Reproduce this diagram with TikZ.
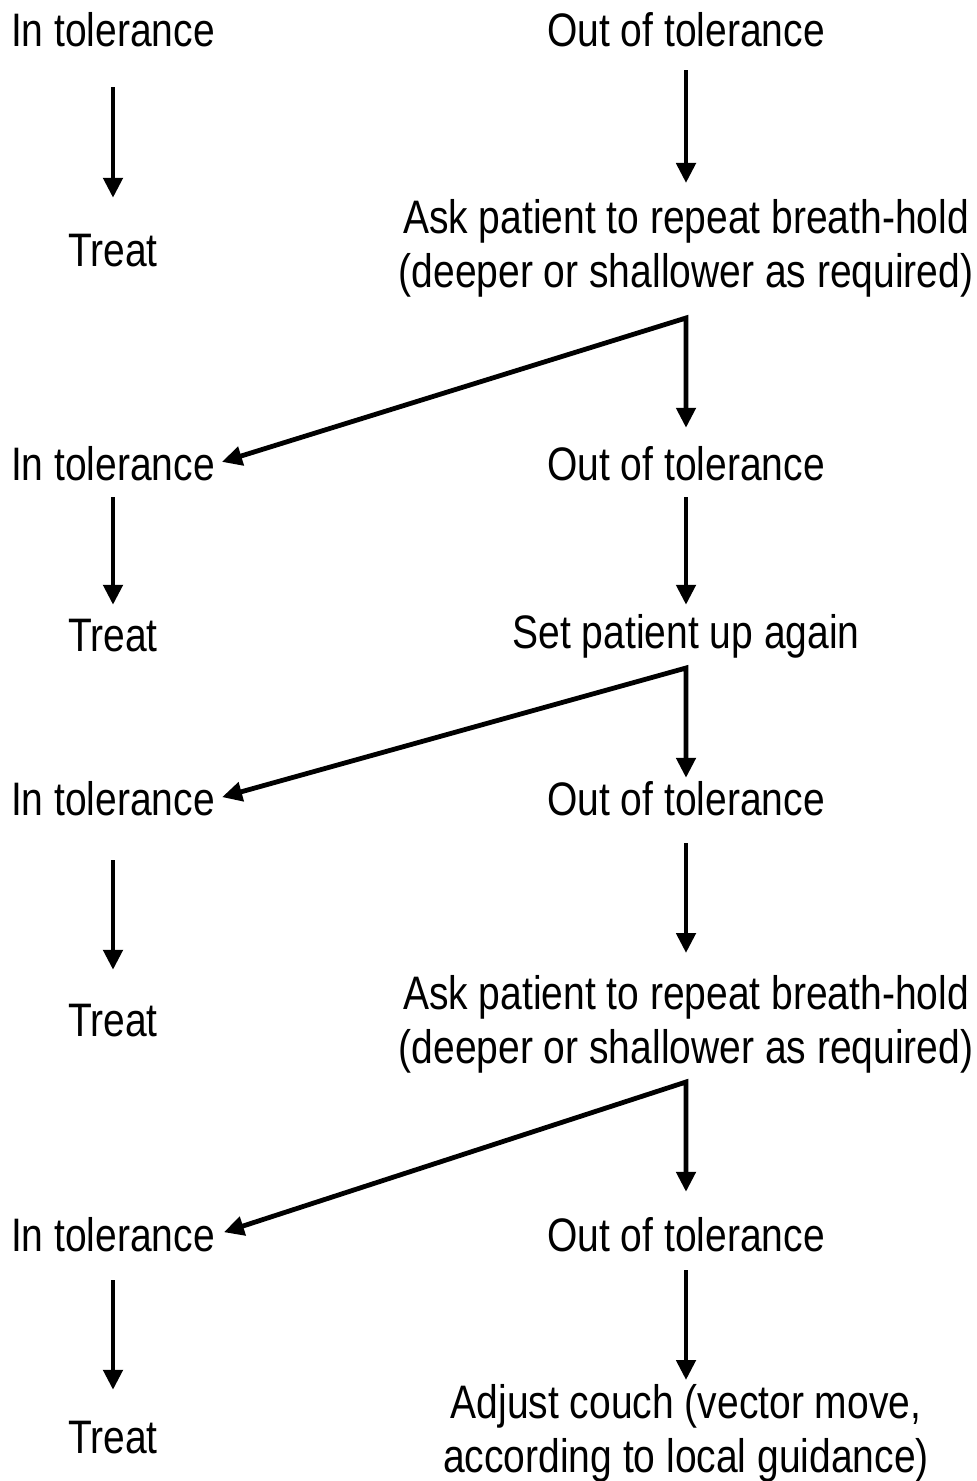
\documentclass[tikz,border=0pt]{standalone}
\usepackage{fontspec}
\setmainfont[FakeStretch=0.83]{Liberation Sans}
\usepackage{tikz}
\usetikzlibrary{arrows.meta}
\tikzset{txtstyle/.style={inner sep=0pt,text height=16.8pt,text depth=0pt},
  twostyle/.style={inner sep=0pt,align=center,anchor=north},
  arrstyle/.style={line width=2.4pt,-{Triangle[length=10pt,width=9.5pt]}},
  forkstyle/.style={line width=2.4pt,{Triangle[length=10pt,width=9.5pt]}-{Triangle[length=10pt,width=9.5pt]}}}

\begin{document}
\begin{tikzpicture}[x=0.5pt,y=-0.5pt,font=\fontsize{23.5}{27}\selectfont]
        \useasboundingbox (0,0) rectangle (976,1481);

        % Left column
        \foreach \n/\y in {1/30,2/464,3/799,4/1235}
            \node[txtstyle] (in\n) at (113,\y) {In tolerance};
        \foreach \n/\y in {1/250,2/635,3/1020,4/1437}
            \node[txtstyle] (treat\n) at (113,\y) {Treat};

        % Right column
        \foreach \n/\y in {1/30,2/464,3/799,4/1235}
            \node[txtstyle] (out\n) at (686,\y) {Out of tolerance};
        \node[twostyle] (ask1) at (686,199) {Ask patient to repeat breath-hold\\(deeper or shallower as required)};
        \node[txtstyle] (setup) at (686,632) {Set patient up again};
        \node[twostyle] (ask2) at (686,975) {Ask patient to repeat breath-hold\\(deeper or shallower as required)};
        \node[twostyle] (couch) at (686,1384) {Adjust couch (vector move,\\according to local guidance)};

        % Forks
        \coordinate (fork1) at (686,318);
        \coordinate (fork2) at (686,668);
        \coordinate (fork3) at (686,1082);

        % Vertical connections
        \draw[arrstyle,shorten <=20pt,shorten >=17.5pt] (in1) -- (treat1);
        \draw[arrstyle,shorten <=11.5pt,shorten >=8pt] (out1) -- (ask1);
        \draw[arrstyle,shorten <=8pt,shorten >=6.5pt] (in2) -- (treat2);
        \draw[arrstyle,shorten <=8pt,shorten >=5pt] (out2) -- (setup);
        \draw[arrstyle,shorten <=22pt,shorten >=16.5pt] (in3) -- (treat3);
        \draw[arrstyle,shorten <=13.5pt,shorten >=11pt] (out3) -- (ask2);
        \draw[arrstyle,shorten <=14pt,shorten >=15pt] (in4) -- (treat4);
        \draw[arrstyle,shorten <=9pt,shorten >=2pt] (out4) -- (couch);

        % Branches
        \draw[forkstyle,shorten <=3.5pt,shorten >=9.5pt] (in2.east) -- (fork1) -- (out2);
        \draw[forkstyle,shorten <=3.5pt,shorten >=2pt] (in3.east) -- (fork2) -- (out3);
        \draw[forkstyle,shorten <=4.5pt,shorten >=13pt] (in4.east) -- (fork3) -- (out4);
\end{tikzpicture}
\end{document}
